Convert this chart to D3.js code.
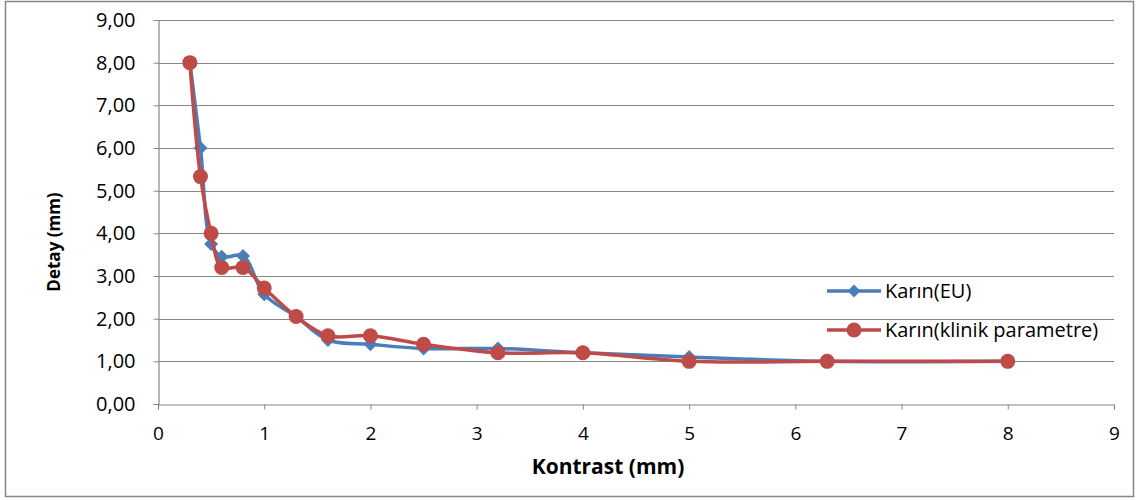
<!DOCTYPE html>
<html><head><meta charset="utf-8">
<script src="https://cdn.jsdelivr.net/npm/d3@7"></script>
<style>body{margin:0;background:#fff}svg{display:block}</style>
</head><body>
<svg id="c" width="1139" height="500"></svg>
<script>
const xValues = [0.3, 0.4, 0.5, 0.6, 0.8, 1.0, 1.3, 1.6, 2.0, 2.5, 3.2, 4.0, 5.0, 6.3, 8.0];
const euValues = [8.0, 6.0, 3.75, 3.45, 3.47, 2.57, 2.05, 1.5, 1.4, 1.3, 1.3, 1.2, 1.1, 1.0, 1.0];
const klinikValues = [8.0, 5.33, 4.0, 3.2, 3.2, 2.72, 2.05, 1.6, 1.6, 1.4, 1.2, 1.2, 1.0, 1.0, 1.0];
const seriesNames = ["Karın(EU)", "Karın(klinik parametre)"];
const xTicks = [0,1,2,3,4,5,6,7,8,9];
const yTicks = [0,1,2,3,4,5,6,7,8,9];
const xTitle = "Kontrast (mm)";
const yTitle = "Detay (mm)";

const svg = d3.select("#c");
const font = "'Open Sans', sans-serif";
const m = {l:158, r:1114, t:20, b:404};
const x = d3.scaleLinear().domain([0,9]).range([m.l, m.r]);
const y = d3.scaleLinear().domain([0,9]).range([m.b, m.t]);
const grey = "#868686";

// outer frame
svg.append("rect").attr("x",5.5).attr("y",1.5).attr("width",1128).attr("height",495)
  .attr("fill","#fff").attr("stroke","#868686").attr("stroke-width",1.5);

// gridlines
svg.append("g").selectAll("line").data(yTicks.filter(d=>d>0)).join("line")
  .attr("x1",m.l).attr("x2",m.r).attr("y1",d=>Math.round(y(d))+0.5).attr("y2",d=>Math.round(y(d))+0.5)
  .attr("stroke",grey).attr("stroke-width",1.2);

// y axis
const yAxis = d3.axisLeft(y).tickValues(yTicks).tickSize(5).tickPadding(20)
  .tickFormat(d=>d3.format(".2f")(d).replace(".",","));
const gy = svg.append("g").attr("transform",`translate(${m.l+0.5},0)`).call(yAxis);
gy.select(".domain").attr("stroke",grey).attr("stroke-width",1.2);
gy.selectAll(".tick line").attr("stroke",grey);
gy.selectAll("text").attr("font-family",font).attr("font-size",20).attr("fill","#000").attr("dx",2);

// x axis
const xAxis = d3.axisBottom(x).tickValues(xTicks).tickSize(5).tickPadding(17).tickFormat(d3.format("d"));
const gx = svg.append("g").attr("transform",`translate(0,${m.b+0.5})`).call(xAxis);
gx.select(".domain").attr("stroke",grey).attr("stroke-width",1.2);
gx.selectAll(".tick line").attr("stroke",grey);
gx.selectAll("text").attr("font-family",font).attr("font-size",19).attr("fill","#000");

// titles
svg.append("text").attr("x",608).attr("y",474).attr("text-anchor","middle")
  .attr("font-family",font).attr("font-weight","bold").attr("font-size",21).text(xTitle);
svg.append("text").attr("transform",`translate(60,${242}) rotate(-90)`).attr("text-anchor","middle")
  .attr("font-family",font).attr("font-weight","bold").attr("font-size",17).text(yTitle);

const line = d3.line().x(d=>x(d[0])).y(d=>y(d[1])).curve(d3.curveCatmullRom.alpha(0.5));
const series = [
  {name:seriesNames[0], vals:euValues, color:"#4A7EBB", marker:"diamond"},
  {name:seriesNames[1], vals:klinikValues, color:"#BE4B48", marker:"circle"}
];
const diamond = s => `M0,${-s}L${s},0L0,${s}L${-s},0Z`;
series.forEach(s=>{
  const pts = xValues.map((xv,i)=>[xv, s.vals[i]]);
  svg.append("path").datum(pts).attr("d",line).attr("fill","none")
    .attr("stroke",s.color).attr("stroke-width",3.5).attr("stroke-linejoin","round");
  const g = svg.append("g");
  if (s.marker==="diamond") {
    g.selectAll("path").data(pts).join("path").attr("d",diamond(7))
      .attr("transform",d=>`translate(${x(d[0])},${y(d[1])})`).attr("fill",s.color);
  } else {
    g.selectAll("circle").data(pts).join("circle").attr("cx",d=>x(d[0])).attr("cy",d=>y(d[1]))
      .attr("r",7.5).attr("fill",s.color);
  }
});

// legend
const leg = svg.append("g");
series.forEach((s,i)=>{
  const ly = 291 + i*39;
  leg.append("line").attr("x1",827).attr("x2",881).attr("y1",ly).attr("y2",ly)
    .attr("stroke",s.color).attr("stroke-width",3.5);
  if (s.marker==="diamond") leg.append("path").attr("d",diamond(6.5)).attr("transform",`translate(854,${ly})`).attr("fill",s.color);
  else leg.append("circle").attr("cx",854).attr("cy",ly).attr("r",7.5).attr("fill",s.color);
  leg.append("text").attr("x",885).attr("y",ly).attr("dy","0.35em").attr("font-family",font)
    .attr("font-size",20).attr("fill","#000").text(s.name);
});
</script>
</body></html>
